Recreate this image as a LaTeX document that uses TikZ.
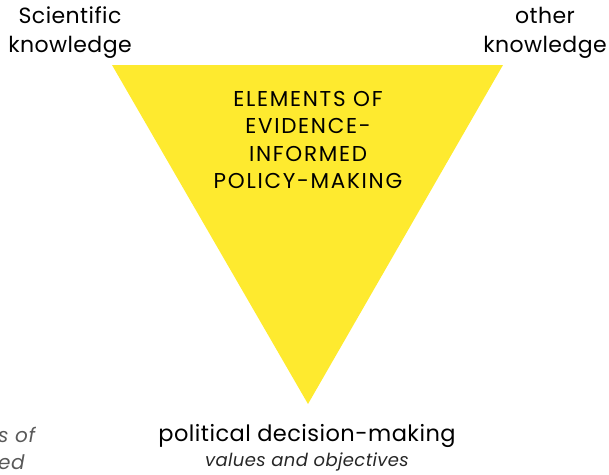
\documentclass[tikz,border=0pt]{standalone}
\usepackage{fontspec}
\setmainfont{Poppins}
\usetikzlibrary{positioning}

\definecolor{eipyellow}{RGB}{254,234,47}

\tikzset{
    cornerlabel/.style={align=center,inner sep=0pt,font=\fontsize{22}{29}\selectfont\addfontfeature{LetterSpace=2}},
    titlelabel/.style={align=center,inner sep=0pt,font=\fontsize{21.5}{27.3}\selectfont\addfontfeature{LetterSpace=8}},
    notelabel/.style={align=center,inner sep=0pt,font=\fontsize{18}{27}\selectfont\itshape\addfontfeature{LetterSpace=2}}
}

\begin{document}
\begin{tikzpicture}[x=1pt,y=-1pt]
    \useasboundingbox (0,0) rectangle (609,474);
    \clip (0,0) rectangle (609,474);

    % the triangle
    \fill [eipyellow] (112,65) -- (503,65) -- (308,404) -- cycle;
    \node [titlelabel] (title) at (308,140) {ELEMENTS OF\\EVIDENCE-\\INFORMED\\POLICY-MAKING};

    % the three corners
    \node [cornerlabel] (science) at (70,33) {Scientific\\knowledge};
    \node [cornerlabel,font=\fontsize{22.5}{29}\selectfont\addfontfeature{LetterSpace=2}] (politics) at (307,436) {political decision-making};
    \node [cornerlabel] (other) at (545,33) {other\\knowledge};
    \node [notelabel,text=black!85,below=5pt of politics] (values) {values and objectives};

    % cut off at the left margin
    \node [notelabel,font=\fontsize{20}{27}\selectfont\itshape\addfontfeature{LetterSpace=3},
           align=left,anchor=west,text=black!65] (leftnote) at (-2,448) {s of\\ed};
\end{tikzpicture}
\end{document}
